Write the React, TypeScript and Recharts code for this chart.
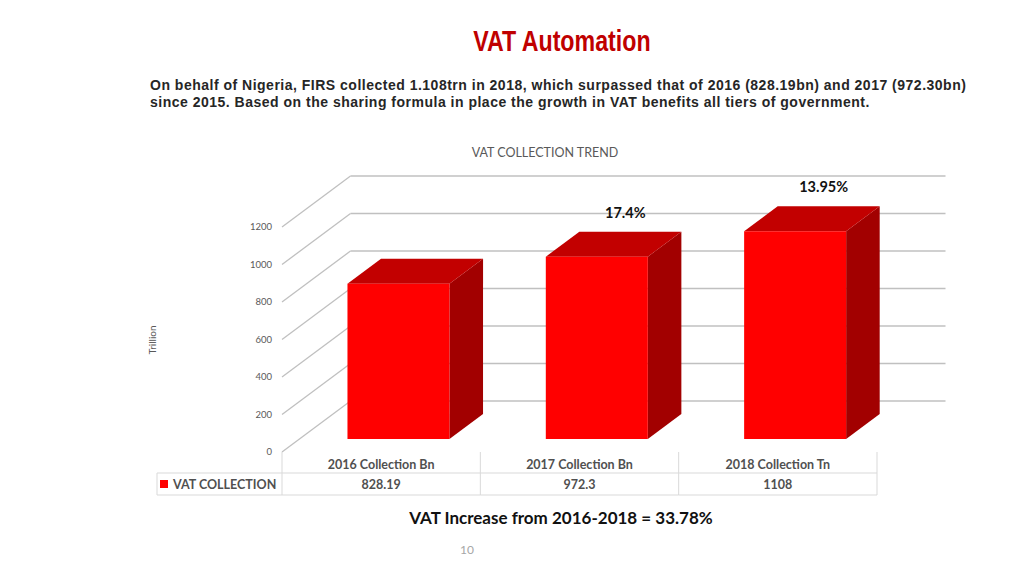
import { BarChart, Bar, XAxis, YAxis, CartesianGrid, LabelList } from 'recharts';

const categories = ['2016 Collection Bn', '2017 Collection Bn', '2018 Collection Tn'];
const collection = [828.19, 972.3, 1108];
const tableValues = ['828.19', '972.3', '1108'];
const growthLabels = ['', '17.4%', '13.95%'];
const yTicks = [0, 200, 400, 600, 800, 1000, 1200];

const data = categories.map((name, i) => ({
  name,
  value: collection[i],
  growth: growthLabels[i],
  shown: tableValues[i],
}));

// layout of the pseudo-3d plot (front plane edges)
const W = 1024;
const H = 576;
const PLOT_LEFT = 282;
const PLOT_RIGHT = 877;
const PLOT_TOP = 227;
const PLOT_BOTTOM = 452;
const Y_AXIS_W = 40;
const X_AXIS_H = 44;
const DEPTH_X = 68.5;
const DEPTH_Y = -51;
const BAR_FRONT = 0.255;
const BAR_BACK = 0.745;
const BAND = (PLOT_RIGHT - PLOT_LEFT) / categories.length;
const LEGEND_LEFT = 157;
const GRID = '#c0c0c0';
const TABLE_LINE = '#d9d9d9';
const FONT = 'Lato, "Open Sans", sans-serif';

const gridLine = (p: any) => {
  const { x1, x2, y1 } = p;
  const bx = x1 + DEPTH_X;
  const by = y1 + DEPTH_Y;
  return (
    <g key={`g-${p.index}-${y1}`}>
      <line x1={x1} y1={y1} x2={bx} y2={by} stroke={GRID} strokeWidth={1.3} />
      <line x1={bx} y1={by} x2={x2 + DEPTH_X} y2={by} stroke={GRID} strokeWidth={1.3} />
    </g>
  );
};

const Box = (p: any) => {
  const { x, y, width, height } = p;
  if (!height) return null;
  const fx = x + DEPTH_X * BAR_FRONT;
  const fy = y + DEPTH_Y * BAR_FRONT;
  const dx = DEPTH_X * (BAR_BACK - BAR_FRONT);
  const dy = DEPTH_Y * (BAR_BACK - BAR_FRONT);
  const top = `${fx},${fy} ${fx + width},${fy} ${fx + width + dx},${fy + dy} ${fx + dx},${fy + dy}`;
  const side = `${fx + width},${fy} ${fx + width + dx},${fy + dy} ${fx + width + dx},${fy + height + dy} ${fx + width},${fy + height}`;
  return (
    <g>
      <polygon points={side} fill="#a20000" />
      <polygon points={top} fill="#c20000" />
      <rect x={fx} y={fy} width={width} height={height} fill="#ff0000" />
    </g>
  );
};

const growthLabel = (p: any) => {
  const { x, y, width, value } = p;
  if (!value) return null;
  const cx = x + width / 2 + 46;
  const by = y + DEPTH_Y * BAR_BACK - 14;
  return (
    <text x={cx} y={by} textAnchor="middle" fontFamily={FONT} fontWeight="bold" fontSize={14.5} fill="#111">
      {value}
    </text>
  );
};

const YTick = (p: any) => (
  <text x={PLOT_LEFT - 10} y={p.y} dy={3} textAnchor="end" fontFamily={FONT} fontSize={9.5} fill="#595959">
    {p.payload.value}
  </text>
);

const TableColumn = (p: any) => {
  const { x, y, index } = p;
  const l = x - BAND / 2;
  const r = x + BAND / 2;
  const row = y + 21;
  const end = y + 43;
  return (
    <g>
      <line x1={l} y1={y} x2={l} y2={end} stroke={TABLE_LINE} />
      {index === categories.length - 1 && <line x1={r} y1={y} x2={r} y2={end} stroke={TABLE_LINE} />}
      <line x1={l} y1={row} x2={r} y2={row} stroke={TABLE_LINE} />
      <line x1={l} y1={end} x2={r} y2={end} stroke={TABLE_LINE} />
      <text x={x} y={y + 17} textAnchor="middle" fontFamily={FONT} fontWeight="bold" fontSize={12.5} fill="#505050">
        {p.payload.value}
      </text>
      <text x={x} y={y + 37} textAnchor="middle" fontFamily={FONT} fontWeight="bold" fontSize={12.5} fill="#505050">
        {tableValues[index]}
      </text>
      {index === 0 && (
        <g>
          <line x1={LEGEND_LEFT} y1={row} x2={l} y2={row} stroke={TABLE_LINE} />
          <line x1={LEGEND_LEFT} y1={end} x2={l} y2={end} stroke={TABLE_LINE} />
          <line x1={LEGEND_LEFT} y1={row} x2={LEGEND_LEFT} y2={end} stroke={TABLE_LINE} />
          <rect x={LEGEND_LEFT + 3} y={row + 7} width={8} height={8} fill="#ff0000" />
          <text x={LEGEND_LEFT + 16} y={y + 37} fontFamily={FONT} fontWeight="bold" fontSize={12.5} fill="#505050">
            VAT COLLECTION
          </text>
        </g>
      )}
    </g>
  );
};

export default function App() {
  return (
    <div style={{ position: 'absolute', left: 0, top: 0, width: W, height: H, background: '#fff', overflow: 'hidden' }}>
      <div
        style={{
          position: 'absolute',
          left: 0,
          width: 1124,
          top: 24,
          textAlign: 'center',
          fontFamily: '"Liberation Sans Narrow", "Liberation Sans", Arial, sans-serif',
          fontWeight: 'bold',
          fontSize: 29,
          color: '#c00000',
          lineHeight: '34px',
        }}
      >
        <span style={{ display: 'inline-block', transform: 'scaleX(0.8)' }}>VAT Automation</span>
      </div>
      <div
        style={{
          position: 'absolute',
          left: 150,
          top: 77,
          fontFamily: '"Liberation Sans", Arial, sans-serif',
          fontWeight: 'bold',
          fontSize: 14,
          letterSpacing: 0.5,
          lineHeight: '17px',
          color: '#262626',
          whiteSpace: 'nowrap',
        }}
      >
        On behalf of Nigeria, FIRS collected 1.108trn in 2018, which surpassed that of 2016 (828.19bn) and 2017 (972.30bn)
        <br />
        since 2015. Based on the sharing formula in place the growth in VAT benefits all tiers of government.
      </div>
      <div
        style={{ position: 'absolute', left: 0, width: 1090, top: 145, textAlign: 'center', fontFamily: FONT, fontSize: 12.5, color: '#595959' }}
      >
        VAT COLLECTION TREND
      </div>
      <div
        style={{
          position: 'absolute',
          left: 122,
          top: 334,
          width: 60,
          textAlign: 'center',
          transform: 'rotate(-90deg)',
          fontFamily: FONT,
          fontSize: 10,
          color: '#595959',
        }}
      >
        Trillion
      </div>
      <div style={{ position: 'absolute', left: 0, top: 0 }}>
        <BarChart
          width={W}
          height={H}
          data={data}
          margin={{ top: PLOT_TOP, bottom: H - PLOT_BOTTOM - X_AXIS_H, left: PLOT_LEFT - Y_AXIS_W, right: W - PLOT_RIGHT }}
        >
          <CartesianGrid vertical={false} horizontal={gridLine} />
          <XAxis
            dataKey="name"
            height={X_AXIS_H}
            axisLine={false}
            tickLine={false}
            tickSize={0}
            tickMargin={0}
            interval={0}
            tick={TableColumn}
          />
          <YAxis
            width={Y_AXIS_W}
            domain={[0, 1200]}
            ticks={yTicks}
            axisLine={false}
            tickLine={false}
            tick={YTick}
          />
          <Bar dataKey="value" barSize={102} shape={Box} isAnimationActive={false}>
            <LabelList dataKey="growth" content={growthLabel} />
          </Bar>
        </BarChart>
      </div>
      <div
        style={{ position: 'absolute', left: 0, width: 1122, top: 507, textAlign: 'center', fontFamily: FONT, fontWeight: 'bold', fontSize: 17, color: '#111' }}
      >
        VAT Increase from 2016-2018 = 33.78%
      </div>
      <div style={{ position: 'absolute', left: 0, width: 934, top: 542, textAlign: 'center', fontFamily: FONT, fontSize: 12, color: '#a6a6a6' }}>
        10
      </div>
    </div>
  );
}
